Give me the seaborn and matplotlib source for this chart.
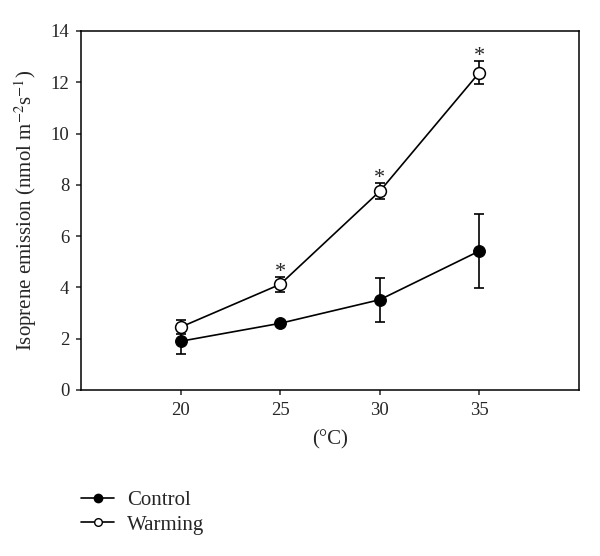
import numpy as np
import pandas as pd
import matplotlib
matplotlib.use("Agg")
import matplotlib.pyplot as plt
import seaborn as sns
from matplotlib.lines import Line2D

temps = [20, 25, 30, 35]
control_mean = [1.9, 2.6, 3.52, 5.42]
control_err = [0.5, 0.1, 0.85, 1.43]
warming_mean = [2.45, 4.12, 7.75, 12.38]
warming_err = [0.28, 0.3, 0.32, 0.43]
signif = [False, True, True, True]

sns.set_style("ticks")
plt.rcParams["font.family"] = ["Liberation Serif", "DejaVu Serif"]
plt.rcParams["mathtext.fontset"] = "stix"

df = pd.DataFrame({
    "temp": temps * 2,
    "emission": control_mean + warming_mean,
    "group": ["Control"] * 4 + ["Warming"] * 4,
})

fig = plt.figure(figsize=(6, 5.56), dpi=100)
ax = fig.add_axes([0.135, 0.2986, 0.83, 0.6457])

for mean, err in [(control_mean, control_err), (warming_mean, warming_err)]:
    ax.errorbar(temps, mean, yerr=err, fmt="none", ecolor="black",
                elinewidth=1.2, capsize=3.5, capthick=1.2, zorder=2)

sns.lineplot(data=df[df.group == "Control"], x="temp", y="emission", ax=ax,
             color="black", lw=1.2, marker="o", markersize=8.5,
             markerfacecolor="black", markeredgecolor="black", zorder=3)
sns.lineplot(data=df[df.group == "Warming"], x="temp", y="emission", ax=ax,
             color="black", lw=1.2, marker="o", markersize=8.5,
             markerfacecolor="white", markeredgecolor="black",
             markeredgewidth=1.1, zorder=3)

# significance marks
for t, m, e, s in zip(temps, warming_mean, warming_err, signif):
    if s:
        ax.text(t, m + e + 0.0, "*", ha="center", va="baseline", fontsize=16, zorder=4)

ax.set_xlim(15, 40)
ax.set_ylim(0, 14)
ax.set_xticks(temps)
ax.set_yticks(range(0, 15, 2))
ax.tick_params(axis="both", labelsize=13.5, direction="out", length=3.5, width=1.1,
               pad=5, top=False, right=False)
for sp in ax.spines.values():
    sp.set_linewidth(1.1)
    sp.set_color("black")

ax.set_xlabel("(°C)", fontsize=15, labelpad=8)
ax.set_ylabel("Isoprene emission (nmol m$^{-2}$s$^{-1}$)", fontsize=15, labelpad=8)

handles = [
    Line2D([], [], color="black", lw=1.2, marker="o", markersize=6,
           markerfacecolor="black", markeredgecolor="black"),
    Line2D([], [], color="black", lw=1.2, marker="o", markersize=5.5,
           markerfacecolor="white", markeredgecolor="black"),
]
fig.legend(handles, ["Control", "Warming"], loc="upper left",
           bbox_to_anchor=(0.135, 0.118), frameon=False, fontsize=15,
           handlelength=1.6, handletextpad=0.6, labelspacing=0.25,
           borderpad=0, borderaxespad=0)

fig.savefig("out.png", dpi=100)
